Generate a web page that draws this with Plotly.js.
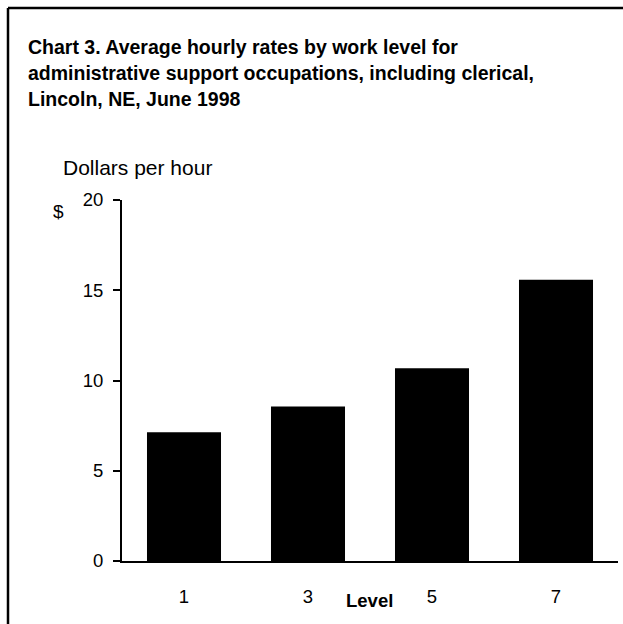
<!DOCTYPE html>
<html>
<head>
<meta charset="utf-8">
<script src="https://cdn.plot.ly/plotly-3.0.1.min.js"></script>
<style>
  html, body { margin: 0; padding: 0; background: #fff; }
  #chart { width: 623px; height: 624px; }
</style>
</head>
<body>
<div id="chart"></div>
<script>
// Data
const levels = ["1", "3", "5", "7"];
const rates = [7.13, 8.56, 10.68, 15.58];
const titleLines = [
  "Chart 3. Average hourly rates by work level for",
  "administrative support occupations, including clerical,",
  "Lincoln, NE, June 1998"
];
const yTickVals = [0, 5, 10, 15, 20];
const yAxisLabel = "Dollars per hour";
const yUnit = "$";
const xAxisLabel = "Level";

// Layout geometry (pixels)
const W = 623, H = 624;
const M = { l: 122, r: 5, t: 200, b: 63 };
const PW = W - M.l - M.r, PH = H - M.t - M.b;
const px = x => (x - M.l) / PW;
const py = y => (H - M.b - y) / PH;

const FONT = "Liberation Sans, Arial, Helvetica, sans-serif";

const annotations = [];
const titleY = [47, 73, 99];
titleLines.forEach((t, i) => {
  annotations.push({
    text: "<b>" + t + "</b>", xref: "paper", yref: "paper",
    x: px(26), y: py(titleY[i]), xanchor: "left", yanchor: "middle",
    showarrow: false, font: { family: FONT, size: 19.5, color: "#000" }
  });
});
annotations.push({
  text: yAxisLabel, xref: "paper", yref: "paper",
  x: px(61), y: py(167), xanchor: "left", yanchor: "middle",
  showarrow: false, font: { family: FONT, size: 21, color: "#000" }
});
annotations.push({
  text: yUnit, xref: "paper", yref: "paper",
  x: px(58), y: py(211), xanchor: "center", yanchor: "middle",
  showarrow: false, font: { family: FONT, size: 19, color: "#000" }
});
annotations.push({
  text: "<b>" + xAxisLabel + "</b>", xref: "paper", yref: "paper",
  x: px(369), y: py(600), xanchor: "center", yanchor: "middle",
  showarrow: false, font: { family: FONT, size: 18.5, color: "#000" }
});

const trace = {
  type: "bar",
  x: levels,
  y: rates,
  marker: { color: "#000", line: { width: 0 } },
  hoverinfo: "none"
};

const layout = {
  width: W, height: H,
  margin: M,
  paper_bgcolor: "#fff", plot_bgcolor: "#fff",
  showlegend: false,
  bargap: 0.403,
  font: { family: FONT, color: "#000" },
  xaxis: {
    type: "category",
    showline: true, linecolor: "#000", linewidth: 2,
    ticks: "", showgrid: false, zeroline: false,
    tickfont: { family: FONT, size: 18.5, color: "#000" },
    ticklabelstandoff: 18
  },
  yaxis: {
    range: [0, 20],
    tickvals: yTickVals,
    showline: true, linecolor: "#000", linewidth: 2,
    ticks: "outside", ticklen: 7, tickwidth: 2, tickcolor: "#000",
    showgrid: false, zeroline: false,
    tickfont: { family: FONT, size: 18.5, color: "#000" },
    ticklabelstandoff: 6
  },
  annotations: annotations,
  shapes: [
    { type: "line", xref: "paper", yref: "paper",
      x0: px(8), x1: px(8), y0: py(8), y1: py(640),
      line: { color: "#000", width: 2.5 } },
    { type: "line", xref: "paper", yref: "paper",
      x0: px(8), x1: px(640), y0: py(8), y1: py(8),
      line: { color: "#000", width: 2.5 } }
  ]
};

Plotly.newPlot("chart", [trace], layout, { staticPlot: true, displayModeBar: false });
</script>
</body>
</html>
